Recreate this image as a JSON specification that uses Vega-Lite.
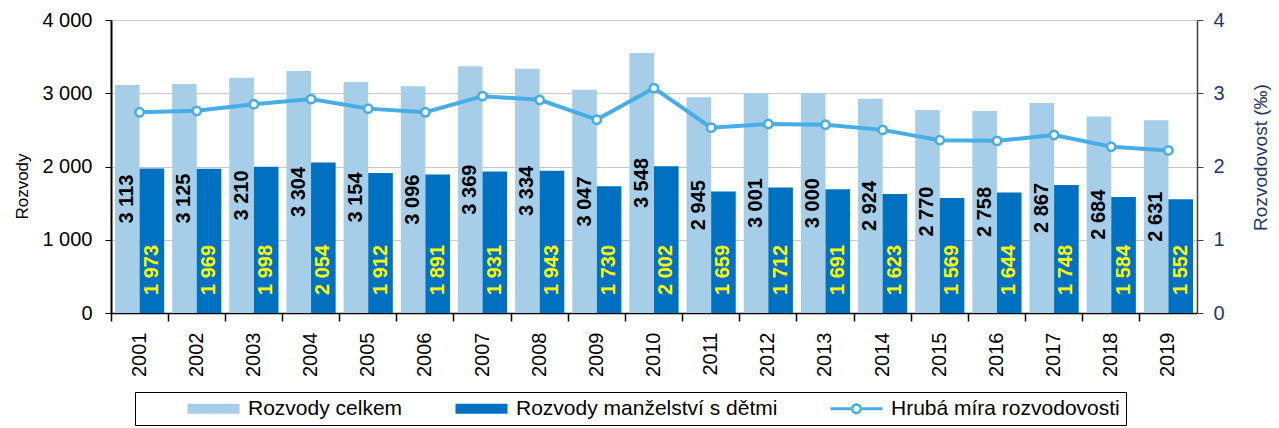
{
  "$schema": "https://vega.github.io/schema/vega-lite/v6.json",
  "width": 1086,
  "height": 293,
  "autosize": {"type": "none"},
  "padding": {"left": 111, "top": 20, "right": 82, "bottom": 115},
  "config": {
    "font": "Liberation Sans",
    "locale": {"number": {"decimal": ",", "thousands": " ", "grouping": [3], "currency": ["", " Kč"]}},
    "view": {"stroke": "#404040", "strokeWidth": 1},
    "axis": {"labelFont": "Liberation Sans", "titleFont": "Liberation Sans", "titleFontWeight": "normal"}
  },
  "data": {"values": [
    {"rok": "2001", "Rozvody celkem": 3113, "Rozvody manželství s dětmi": 1973, "Hrubá míra rozvodovosti": 2.74},
    {"rok": "2002", "Rozvody celkem": 3125, "Rozvody manželství s dětmi": 1969, "Hrubá míra rozvodovosti": 2.76},
    {"rok": "2003", "Rozvody celkem": 3210, "Rozvody manželství s dětmi": 1998, "Hrubá míra rozvodovosti": 2.85},
    {"rok": "2004", "Rozvody celkem": 3304, "Rozvody manželství s dětmi": 2054, "Hrubá míra rozvodovosti": 2.92},
    {"rok": "2005", "Rozvody celkem": 3154, "Rozvody manželství s dětmi": 1912, "Hrubá míra rozvodovosti": 2.79},
    {"rok": "2006", "Rozvody celkem": 3096, "Rozvody manželství s dětmi": 1891, "Hrubá míra rozvodovosti": 2.74},
    {"rok": "2007", "Rozvody celkem": 3369, "Rozvody manželství s dětmi": 1931, "Hrubá míra rozvodovosti": 2.96},
    {"rok": "2008", "Rozvody celkem": 3334, "Rozvody manželství s dětmi": 1943, "Hrubá míra rozvodovosti": 2.91},
    {"rok": "2009", "Rozvody celkem": 3047, "Rozvody manželství s dětmi": 1730, "Hrubá míra rozvodovosti": 2.64},
    {"rok": "2010", "Rozvody celkem": 3548, "Rozvody manželství s dětmi": 2002, "Hrubá míra rozvodovosti": 3.07},
    {"rok": "2011", "Rozvody celkem": 2945, "Rozvody manželství s dětmi": 1659, "Hrubá míra rozvodovosti": 2.53},
    {"rok": "2012", "Rozvody celkem": 3001, "Rozvody manželství s dětmi": 1712, "Hrubá míra rozvodovosti": 2.58},
    {"rok": "2013", "Rozvody celkem": 3000, "Rozvody manželství s dětmi": 1691, "Hrubá míra rozvodovosti": 2.57},
    {"rok": "2014", "Rozvody celkem": 2924, "Rozvody manželství s dětmi": 1623, "Hrubá míra rozvodovosti": 2.50},
    {"rok": "2015", "Rozvody celkem": 2770, "Rozvody manželství s dětmi": 1569, "Hrubá míra rozvodovosti": 2.36},
    {"rok": "2016", "Rozvody celkem": 2758, "Rozvody manželství s dětmi": 1644, "Hrubá míra rozvodovosti": 2.35},
    {"rok": "2017", "Rozvody celkem": 2867, "Rozvody manželství s dětmi": 1748, "Hrubá míra rozvodovosti": 2.43},
    {"rok": "2018", "Rozvody celkem": 2684, "Rozvody manželství s dětmi": 1584, "Hrubá míra rozvodovosti": 2.27},
    {"rok": "2019", "Rozvody celkem": 2631, "Rozvody manželství s dětmi": 1552, "Hrubá míra rozvodovosti": 2.22}
  ]},
  "layer": [
    {
      "transform": [{"fold": ["Rozvody celkem", "Rozvody manželství s dětmi"], "as": ["serie", "hodnota"]}],
      "mark": {"type": "bar"},
      "encoding": {
        "x": {
          "field": "rok", "type": "nominal",
          "scale": {"paddingInner": 0, "paddingOuter": 0},
          "axis": {
            "title": null, "bandPosition": 0, "labelAngle": -90,
            "labelAlign": "right", "labelBaseline": "middle", "labelFontSize": 20, "labelColor": "black",
            "tickSize": 8, "tickColor": "black", "tickWidth": 1.5, "domainColor": "black", "domainWidth": 1.5,
            "labelPadding": 11, "grid": false
          }
        },
        "xOffset": {
          "field": "serie", "type": "nominal",
          "scale": {"domain": ["Rozvody celkem", "Rozvody manželství s dětmi"], "paddingInner": 0, "paddingOuter": 0.162}
        },
        "y": {
          "field": "hodnota", "type": "quantitative",
          "scale": {"domain": [0, 4000]},
          "title": "Rozvody",
          "axis": {
            "orient": "left",
            "titleFontSize": 17, "titleColor": "#000000", "titlePadding": 10,
            "titleAngle": 270, "titleY": 166, "titleAlign": "center",
            "format": ",d", "values": [0, 1000, 2000, 3000, 4000],
            "labelFontSize": 20, "labelColor": "black", "tickColor": "black", "tickSize": 6,
            "labelPadding": 13, "domainColor": "black", "domainWidth": 2,
            "grid": true, "gridColor": "#c8c8c8", "gridWidth": 1
          }
        },
        "color": {
          "field": "serie", "type": "nominal",
          "scale": {"domain": ["Rozvody celkem", "Rozvody manželství s dětmi", "Hrubá míra rozvodovosti"], "range": ["#a6cee8", "#0070c0", "#46ade6"]},
          "legend": {
            "orient": "none", "legendX": 24, "legendY": 372, "direction": "horizontal",
            "title": " ", "titleOrient": "left", "titlePadding": 62, "titleFontSize": 20,
            "strokeColor": "black", "padding": 6,
            "labelFont": "Liberation Sans", "labelFontSize": 21, "labelColor": "black", "labelLimit": 400,
            "symbolSize": 100, "labelOffset": 24, "columnPadding": 52,
            "symbolStrokeWidth": 0,
            "encode": {
              "symbols": {
                "update": {
                  "shape": {"signal": "datum.value === 'Hrubá míra rozvodovosti' ? 'M-5.2,-0.3H-1.05V0.3H-5.2Z M1.05,-0.3H5.2V0.3H1.05Z M-1.1,0A1.1,1.1 0 1,0 1.1,0A1.1,1.1 0 1,0 -1.1,0Z M-0.62,0A0.62,0.62 0 1,1 0.62,0A0.62,0.62 0 1,1 -0.62,0Z' : 'M-5.2,-1H5.2V1H-5.2Z'"},
                  "strokeWidth": {"value": 0},
                  "opacity": {"value": 1},
                  "fillOpacity": {"value": 1}
                }
              }
            }
          }
        }
      }
    },
    {
      "transform": [{"fold": ["Rozvody celkem"], "as": ["serie", "hodnota"]}],
      "mark": {"type": "text", "angle": -90, "align": "center", "baseline": "middle", "font": "Liberation Sans", "fontWeight": "bold", "fontSize": 20, "color": "black"},
      "encoding": {
        "x": {"field": "rok", "type": "nominal"},
        "xOffset": {"field": "serie", "type": "nominal"},
        "y": {"field": "hodnota", "type": "quantitative", "scale": {"domain": [0, 8000]}, "axis": null},
        "text": {"field": "hodnota", "type": "quantitative", "format": ",d"}
      }
    },
    {
      "transform": [{"fold": ["Rozvody manželství s dětmi"], "as": ["serie", "hodnota"]}],
      "mark": {"type": "text", "angle": -90, "align": "left", "baseline": "middle", "dx": 18, "font": "Liberation Sans", "fontWeight": "bold", "fontSize": 20, "color": "#ffff00"},
      "encoding": {
        "x": {"field": "rok", "type": "nominal"},
        "xOffset": {"field": "serie", "type": "nominal"},
        "y": {"datum": 0, "type": "quantitative", "scale": {"domain": [0, 4000]}, "axis": null},
        "text": {"field": "hodnota", "type": "quantitative", "format": ",d"}
      }
    },
    {
      "transform": [{"fold": ["Hrubá míra rozvodovosti"], "as": ["serie", "hodnota"]}],
      "mark": {"type": "line", "strokeWidth": 4},
      "encoding": {
        "x": {"field": "rok", "type": "nominal"},
        "y": {
          "field": "hodnota", "type": "quantitative",
          "scale": {"domain": [0, 4]},
          "title": "Rozvodovost (‰)",
          "axis": {
            "orient": "right", "titleColor": "#1f3864", "titleFontSize": 19,
            "titleAngle": 270, "titlePadding": 46, "titleY": 137, "titleAlign": "center",
            "values": [0, 1, 2, 3, 4], "format": "d",
            "labelColor": "#1f3864", "labelFontSize": 20, "tickColor": "#404040", "tickSize": 6,
            "domainColor": "#404040", "domainWidth": 1.5, "labelPadding": 10, "grid": false
          }
        },
        "color": {"field": "serie", "type": "nominal"}
      }
    },
    {
      "transform": [{"fold": ["Hrubá míra rozvodovosti"], "as": ["serie", "hodnota"]}],
      "mark": {"type": "point", "filled": true, "fill": "#ffffff", "stroke": "#46ade6", "strokeWidth": 2.5, "size": 70, "opacity": 1},
      "encoding": {
        "x": {"field": "rok", "type": "nominal"},
        "y": {"field": "hodnota", "type": "quantitative", "scale": {"domain": [0, 4]}, "axis": null}
      }
    }
  ],
  "resolve": {"scale": {"y": "independent"}}
}
